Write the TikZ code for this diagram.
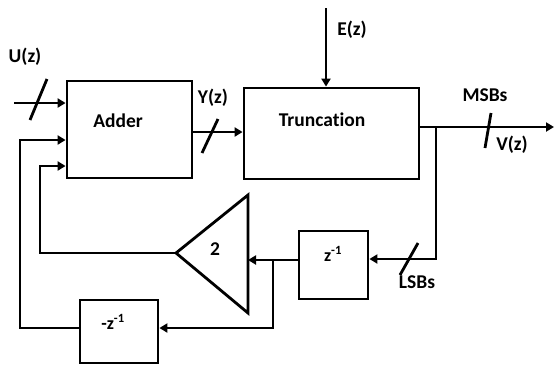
\documentclass[tikz,border=0pt]{standalone}
\usepackage{fontspec}
\setmainfont{Carlito}[Ligatures=NoCommon]
\usetikzlibrary{arrows.meta,calc}
\tikzset{
  wire/.style={line width=2.8pt},
  arr/.style={wire,-{Triangle[length=8pt,width=9pt]}},
  blk/.style={draw,line width=2.8pt,rectangle,inner sep=0pt},
  lbl/.style={font=\fontsize{19.5}{22}\selectfont\bfseries,inner sep=0pt},
  small/.style={font=\fontsize{18}{20}\selectfont\bfseries},
  slash/.style={line width=2.8pt}
}
\begin{document}
\begin{tikzpicture}[x=1pt,y=-1pt]
\useasboundingbox (0,0) rectangle (554,365);
% blocks
\node[blk,minimum width=125pt,minimum height=97pt] (adder) at (129.5,129.5) {};
\node[blk,minimum width=175pt,minimum height=91pt] (trunc) at (331.5,133.5) {};
\node[blk,minimum width=69pt,minimum height=68pt] (zd) at (333.5,265) {};
\node[blk,minimum width=78pt,minimum height=63pt] (mz) at (119,331.5) {};
\coordinate (tapex) at (176,253);
\coordinate (ttop) at (248,195);
\coordinate (tbot) at (248,313);
\draw[wire,line join=miter] (tapex) -- (ttop) -- (tbot) -- cycle;
% texts
\node[lbl] (tadder) at (118,121) {Adder};
\node[lbl] (ttrunc) at (322,120) {Truncation};
\node[lbl] (ttwo) at (215,249) {2};
\node[lbl,small] (tzd) at (333,254) {z\textsuperscript{-1}};
\node[lbl,small] (tmz) at (113,322) {-z\textsuperscript{-1}};
\node[lbl] (lu) at (25,57) {U(z)};
\node[lbl] (ly) at (213,98) {Y(z)};
\node[lbl] (le) at (352,30) {E(z)};
\node[lbl] (lmsb) at (485,95) {MSBs};
\node[lbl] (lv) at (512,145) {V(z)};
\node[lbl] (llsb) at (417,282) {LSBs};
% coordinates
\coordinate (uin) at (14,103);
\coordinate (yl) at (0,132);
\coordinate (ein) at (326,8);
\coordinate (vout) at (554,127);
\coordinate (j1) at (436,127);
\coordinate (lsbl) at (0,259);
\coordinate (zl) at (0,260);
\coordinate (j2) at (273,260);
\coordinate (mzl) at (0,328);
\coordinate (c1) at (20,328);
\coordinate (c2) at (20,140);
\coordinate (c3) at (40,253);
\coordinate (c4) at (40,166);
% connectors
\draw[arr] (uin) -- (uin -| adder.west);
\draw[slash] (30,120) -- (47,79);
\draw[arr] (adder.east |- yl) -- (trunc.west |- yl);
\draw[slash] (202,153) -- (218,119);
\draw[arr] (ein) -- (ein |- trunc.north);
\draw[arr] (trunc.east |- vout) -- (vout);
\draw[slash] (485,148) -- (491,113);
\draw[arr,line join=miter] (j1) -- (j1 |- lsbl) -- (zd.east |- lsbl);
\draw[slash] (400,275) -- (418,243);
\draw[arr] (zd.west |- zl) -- (ttop |- zl);
\draw[arr,line join=miter] (j2) -- (j2 |- mzl) -- (mz.east |- mzl);
\draw[arr,line join=miter] (mz.west |- mzl) -- (c1) -- (c2) -- (c2 -| adder.west);
\draw[arr,line join=miter] (tapex) -- (c3) -- (c4) -- (c4 -| adder.west);
\end{tikzpicture}
\end{document}
